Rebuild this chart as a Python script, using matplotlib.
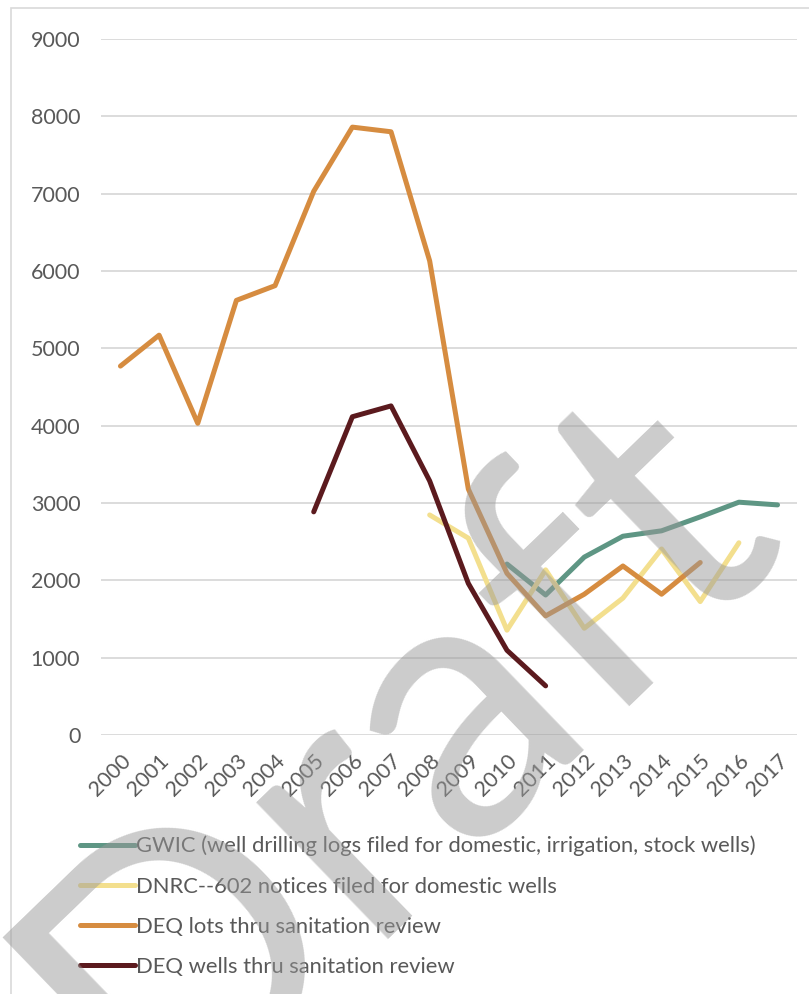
import numpy as np
import matplotlib.pyplot as plt
from matplotlib.patches import Rectangle

years = [str(y) for y in range(2000, 2018)]

# None = no value that year
gwic = [None] * 10 + [2210, 1810, 2300, 2570, 2640, 2820, 3010, 2975]
dnrc = [None] * 8 + [2845, 2545, 1355, 2135, 1380, 1770, 2405, 1725, 2485, None]
deq_lots = [4770, 5170, 4030, 5620, 5810, 7030, 7860, 7800, 6130, 3180,
            2090, 1540, 1820, 2185, 1820, 2230, None, None]
deq_wells = [None] * 5 + [2885, 4115, 4255, 3285, 1960, 1095, 635] + [None] * 6

series = [
    ("GWIC (well drilling logs filed for domestic, irrigation, stock wells)", gwic, "#5E9684"),
    ("DNRC--602 notices filed for domestic wells", dnrc, "#F3DF8E"),
    ("DEQ lots thru sanitation review", deq_lots, "#D68C40"),
    ("DEQ wells thru sanitation review", deq_wells, "#5B1A1E"),
]

plt.rcParams['font.family'] = ['Lato', 'DejaVu Sans']
txt = "#595959"

fig = plt.figure(figsize=(8.09, 9.94), dpi=100)
fig.patches.append(Rectangle((0.014, -0.05), 1.2, 1.042, transform=fig.transFigure,
                             fill=False, edgecolor="#D9D9D9", lw=1.2))
ax = fig.add_axes([0.125, 0.2606, 0.86, 0.7002])

x = np.arange(len(years))
for name, vals, col in series:
    y = np.array([np.nan if v is None else v for v in vals], dtype=float)
    ax.plot(x, y, color=col, lw=3.6, label=name, solid_capstyle='round', zorder=3)

ax.set_xlim(-0.5, len(years) - 0.5)
ax.set_ylim(0, 9000)
ax.set_yticks(range(0, 9001, 1000))
ax.set_xticks(x)
ax.set_xticklabels(years, rotation=45, ha='right', va='top', rotation_mode='anchor')
ax.tick_params(axis='both', length=0, labelsize=15.5, labelcolor=txt)
ax.tick_params(axis='y', pad=15)
ax.tick_params(axis='x', pad=11)
ax.grid(axis='y', color="#D9D9D9", lw=1.3, zorder=0)
for s in ax.spines.values():
    s.set_visible(False)

fig.legend(loc='upper left', bbox_to_anchor=(0.088, 0.168), frameon=False,
           fontsize=15.8, labelcolor=txt, handlelength=2.5, handletextpad=0.05,
           labelspacing=0.92, borderaxespad=0)

fig.text(0.49, 0.245, "Draft", fontsize=270, color="#999999", alpha=0.5,
         rotation=44, ha='center', va='center', zorder=10)

fig.savefig("out.png", dpi=100)
